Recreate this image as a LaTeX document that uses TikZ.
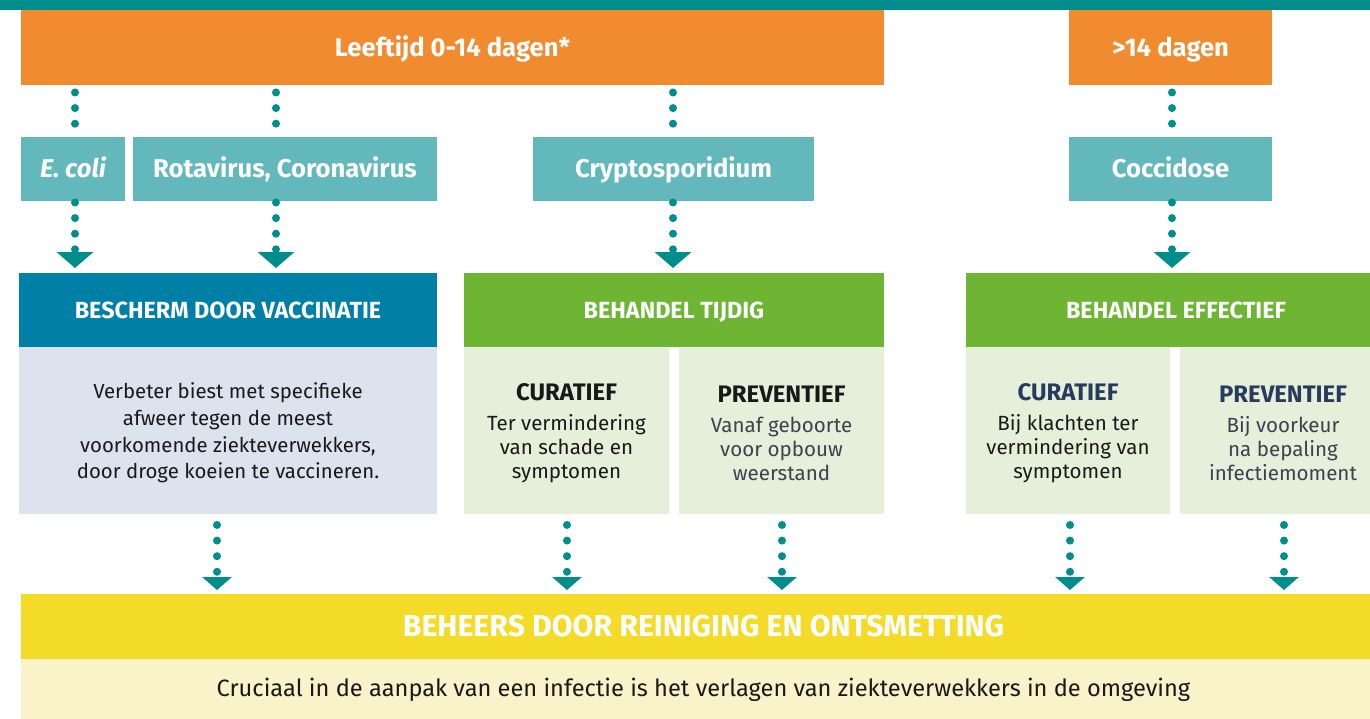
\documentclass[tikz,border=0pt]{standalone}
\usepackage{fontspec}
\setmainfont{Fira Sans}
\usetikzlibrary{arrows.meta}

\definecolor{tealdark}{HTML}{008E8C}
\definecolor{agecol}{HTML}{F18B30}
\definecolor{bugcol}{HTML}{62B8BA}
\definecolor{vacccol}{HTML}{0080A6}
\definecolor{vaccbg}{HTML}{DCE2EE}
\definecolor{treatcol}{HTML}{6DB533}
\definecolor{treatbg}{HTML}{E5EFDA}
\definecolor{cleancol}{HTML}{F3DB28}
\definecolor{cleanbg}{HTML}{FAF2C8}
\definecolor{navytext}{HTML}{283A5E}
\definecolor{greytext}{HTML}{3A4250}

\newcommand{\titel}[1]{{\rule{0pt}{13pt}\bfseries\fontsize{13.6}{15}\selectfont #1}}

\tikzset{
  box/.style={inner sep=0pt, outer sep=0pt, align=center},
  agebox/.style={box, fill=agecol, text=white, minimum height=1.5cm,
    text height=10.1pt, text depth=0pt,
    font=\bfseries\fontsize{14.6}{17}\selectfont},
  bugbox/.style={box, fill=bugcol, text=white, minimum height=1.28cm,
    text height=10.1pt, text depth=0pt,
    font=\bfseries\fontsize{14.6}{17}\selectfont},
  headbox/.style={box, text=white, minimum height=1.48cm,
    text height=9.2pt, text depth=0pt,
    font=\bfseries\fontsize{13.3}{15}\selectfont},
  bodybox/.style={box, minimum height=3.34cm, text=black!90,
    font=\fontsize{11.7}{13.8}\selectfont},
  dotline/.style={tealdark, line width=0.16cm, line cap=round,
    dash pattern=on 0pt off 0.312cm},
  dotarrow/.style={dotline, -{Triangle[width=0.72cm,length=0.32cm]}},
  dotarrowsmall/.style={dotline, -{Triangle[width=0.58cm,length=0.26cm]}},
}

\begin{document}
\begin{tikzpicture}[x=0.02cm, y=-0.02cm]

  \clip (0,0) rectangle (1370,719);
  \fill[tealdark] (0,0) rectangle (1370,10);

  % leeftijd
  \node[agebox, minimum width=17.26cm] (young) at (452.5,47.5) {Leeftĳd 0-14 dagen*};
  \node[agebox, minimum width=4.06cm] (old) at (1170.5,47.5) {>14 dagen};

  % ziekteverwekkers
  \node[bugbox, minimum width=2.08cm] (ecoli) at (73,169) {\itshape E. coli};
  \node[bugbox, minimum width=6.08cm] (rota) at (285,169) {Rotavirus, Coronavirus};
  \node[bugbox, minimum width=5.62cm] (crypto) at (673.5,169) {Cryptosporidium};
  \node[bugbox, minimum width=4.06cm] (cocci) at (1170.5,169) {Coccidose};

  % aanpak
  \node[headbox, fill=vacccol, minimum width=8.36cm] (vacc) at (228,310) {BESCHERM DOOR VACCINATIE};
  \node[headbox, fill=treatcol, minimum width=8.4cm] (tijdig) at (674,310) {BEHANDEL TĲDIG};
  \node[headbox, fill=treatcol, minimum width=8.4cm] (effect) at (1176,310) {BEHANDEL EFFECTIEF};

  \node[bodybox, fill=vaccbg, minimum width=8.36cm, font=\fontsize{11.6}{15.2}\selectfont] (vaccbody) at (228,430.5)
    {\rule{0pt}{12pt}Verbeter biest met specifieke\\afweer tegen de meest\\voorkomende ziekteverwekkers,\\door droge koeien te vaccineren.};
  \node[bodybox, fill=treatbg, minimum width=4.1cm] (tcur) at (566.5,430.5)
    {\titel{CURATIEF}\\[3pt]Ter vermindering\\van schade en\\symptomen};
  \node[bodybox, fill=treatbg, minimum width=4.1cm, text=greytext] (tprev) at (781.5,430.5)
    {\titel{\color{black!90}PREVENTIEF}\\[3pt]Vanaf geboorte\\voor opbouw\\weerstand};
  \node[bodybox, fill=treatbg, minimum width=4.08cm] (ecur) at (1068,430.5)
    {\titel{\color{navytext}CURATIEF}\\[3pt]Bĳ klachten ter\\vermindering van\\symptomen};
  \node[bodybox, fill=treatbg, minimum width=4.12cm, text=greytext] (eprev) at (1283,430.5)
    {\titel{\color{navytext}PREVENTIEF}\\[3pt]Bĳ voorkeur\\na bepaling\\infectiemoment};

  % reiniging
  \node[box, fill=cleancol, text=white, minimum width=27.3cm, minimum height=1.3cm,
    text height=11.9pt, text depth=0pt,
    font=\bfseries\fontsize{17.2}{19}\selectfont] (clean) at (703.5,626.5) {BEHEERS DOOR REINIGING EN ONTSMETTING};
  \node[box, fill=cleanbg, text=black!90, minimum width=27.3cm, minimum height=1.24cm,
    font=\fontsize{13.45}{16}\selectfont] (cleanbody) at (703.5,690)
    {Cruciaal in de aanpak van een infectie is het verlagen van ziekteverwekkers in de omgeving};

  % kolommen
  \coordinate (k1) at (75,0);
  \coordinate (k2) at (276,0);
  \coordinate (k3) at (673,0);
  \coordinate (k4) at (1172,0);
  \coordinate (m1) at (217,0);
  \coordinate (m2) at (567,0);
  \coordinate (m3) at (782,0);
  \coordinate (m4) at (1070,0);
  \coordinate (m5) at (1284,0);

  \draw[dotline, shorten <=0.15cm] (young.south -| k1) -- (ecoli.north -| k1);
  \draw[dotline, shorten <=0.15cm] (young.south -| k2) -- (rota.north -| k2);
  \draw[dotline, shorten <=0.15cm] (young.south -| k3) -- (crypto.north -| k3);
  \draw[dotline, shorten <=0.15cm] (old.south -| k4) -- (cocci.north -| k4);

  \draw[dotarrow, shorten <=0.03cm, shorten >=0.1cm] (ecoli.south -| k1) -- (vacc.north -| k1);
  \draw[dotarrow, shorten <=0.03cm, shorten >=0.1cm] (rota.south -| k2) -- (vacc.north -| k2);
  \draw[dotarrow, shorten <=0.03cm, shorten >=0.1cm] (crypto.south -| k3) -- (tijdig.north -| k3);
  \draw[dotarrow, shorten <=0.03cm, shorten >=0.1cm] (cocci.south -| k4) -- (effect.north -| k4);

  \draw[dotarrowsmall, shorten <=0.22cm, shorten >=0.08cm] (vaccbody.south -| m1) -- (clean.north -| m1);
  \draw[dotarrowsmall, shorten <=0.22cm, shorten >=0.08cm] (tcur.south -| m2) -- (clean.north -| m2);
  \draw[dotarrowsmall, shorten <=0.22cm, shorten >=0.08cm] (tprev.south -| m3) -- (clean.north -| m3);
  \draw[dotarrowsmall, shorten <=0.22cm, shorten >=0.08cm] (ecur.south -| m4) -- (clean.north -| m4);
  \draw[dotarrowsmall, shorten <=0.22cm, shorten >=0.08cm] (eprev.south -| m5) -- (clean.north -| m5);

\end{tikzpicture}
\end{document}
